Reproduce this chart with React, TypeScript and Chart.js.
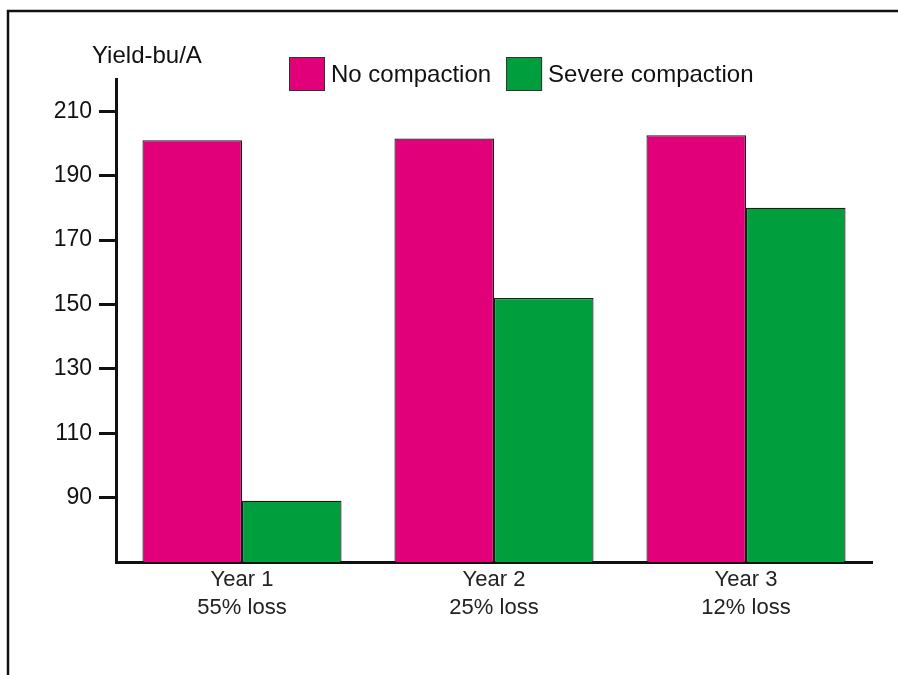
import React, { useEffect, useRef } from 'react';
import { Chart, registerables } from 'chart.js';

Chart.register(...registerables);

const years = ['Year 1', 'Year 2', 'Year 3'];
const lossLabels = ['55% loss', '25% loss', '12% loss'];
const seriesNames = ['No compaction', 'Severe compaction'];
const noCompaction = [201, 201.5, 202.5];
const severeCompaction = [89, 152, 180];
const yTickValues = [90, 110, 130, 150, 170, 190, 210];
const yMin = 70;
const yMax = 220;
const yTitle = 'Yield-bu/A';

const PINK = '#E2007A';
const GREEN = '#009E3D';
const FONT = '"Liberation Sans", Arial, sans-serif';

const decorPlugin = {
  id: 'decor',
  afterDraw(chart: any) {
    const ctx = chart.ctx;
    ctx.save();
    // frame (left and top)
    ctx.strokeStyle = '#111';
    ctx.lineWidth = 2.5;
    ctx.beginPath();
    ctx.moveTo(8, 675);
    ctx.lineTo(8, 11);
    ctx.lineTo(898, 11);
    ctx.stroke();

    // y-axis title
    ctx.font = `24px ${FONT}`;
    ctx.fillStyle = '#111';
    ctx.textAlign = 'left';
    ctx.textBaseline = 'middle';
    ctx.fillText(yTitle, 92, 56);

    // legend
    let x = 289;
    chart.data.datasets.forEach((ds: any) => {
      ctx.fillStyle = ds.backgroundColor;
      ctx.fillRect(x, 57, 36, 34);
      ctx.strokeStyle = '#333';
      ctx.lineWidth = 1;
      ctx.strokeRect(x + 0.5, 57.5, 35, 33);
      ctx.fillStyle = '#111';
      ctx.fillText(ds.label, x + 42, 75);
      x += 42 + ctx.measureText(ds.label).width + 15;
    });
    ctx.restore();
  },
};

export default function App() {
  const ref = useRef<HTMLCanvasElement>(null);

  useEffect(() => {
    document.body.style.margin = '0';
    const canvas = ref.current!;
    const chart = new Chart(canvas, {
      type: 'bar',
      data: {
        labels: years.map((y, i) => [y, lossLabels[i]]),
        datasets: [
          {
            label: seriesNames[0],
            data: noCompaction,
            backgroundColor: PINK,
            borderColor: '#1a1a1a',
            borderWidth: 1.2,
            categoryPercentage: 0.79,
            barPercentage: 1,
          },
          {
            label: seriesNames[1],
            data: severeCompaction,
            backgroundColor: GREEN,
            borderColor: '#1a1a1a',
            borderWidth: 1.2,
            categoryPercentage: 0.79,
            barPercentage: 1,
          },
        ],
      },
      options: {
        responsive: false,
        animation: false,
        layout: { padding: { top: 79, right: 26, left: 0, bottom: 0 } },
        plugins: {
          legend: { display: false },
          title: { display: false },
          tooltip: { enabled: false },
        },
        scales: {
          x: {
            grid: { display: false, drawTicks: false },
            border: { display: true, color: '#111', width: 3 },
            ticks: {
              color: '#222',
              font: { family: FONT, size: 22, lineHeight: 1.27 },
              padding: 4,
              maxRotation: 0,
            },
            afterFit(scale: any) {
              scale.height = 675 - 562;
            },
          },
          y: {
            min: yMin,
            max: yMax,
            afterBuildTicks(scale: any) {
              scale.ticks = yTickValues.map((v) => ({ value: v }));
            },
            grid: {
              drawOnChartArea: false,
              drawTicks: true,
              tickLength: 17,
              color: '#111',
              lineWidth: 3,
            },
            border: { display: true, color: '#111', width: 3 },
            ticks: {
              color: '#111',
              font: { family: FONT, size: 23 },
              padding: 7,
            },
            afterFit(scale: any) {
              scale.width = 116;
            },
          },
        },
      },
      plugins: [decorPlugin],
    });
    return () => chart.destroy();
  }, []);

  return <canvas ref={ref} width={898} height={675} style={{ display: 'block' }} />;
}
